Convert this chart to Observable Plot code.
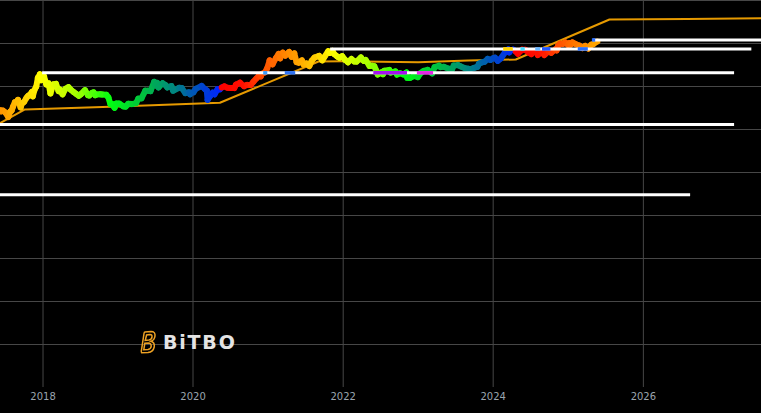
<!DOCTYPE html>
<html><head><meta charset="utf-8">
<script src="https://cdn.jsdelivr.net/npm/d3@7"></script>
<script src="https://cdn.jsdelivr.net/npm/@observablehq/plot@0.6"></script>
<style>
html,body{margin:0;padding:0;background:#000;}
#wrap{position:relative;width:761px;height:413px;overflow:hidden;background:#000}
#logo{position:absolute;left:140px;top:330px;display:flex;align-items:center;gap:6px}
#logo span{font-family:"DejaVu Sans",sans-serif;font-weight:700;font-size:19px;color:#e4e4e4;letter-spacing:1.8px}
</style></head><body>
<div id="wrap"><div id="chart"></div>
<div id="logo"><svg width="17" height="24" viewBox="0 0 17 23"><path d="M5 1.5 L11 1 Q15.5 1 15 5.5 Q14.5 9.5 11 10.8 Q15 12 14.2 16.5 Q13.2 21.5 8 22 L1.5 22.2 Q1 22 1.4 20 L4 3 Q4.2 1.6 5 1.5 Z M6.6 4.5 L5.2 10 L9 9.6 Q11.8 9 12 6.4 Q12.2 4 10 4 Z M4.8 12.8 L3.8 19.2 L8 19 Q11 18.5 11.2 15.8 Q11.4 12.7 8.5 12.6 Z" fill="none" stroke="#eea224" stroke-width="1.5"/></svg><span>BiTBO</span></div>
</div>
<script>
// ---------- data ----------
const xTickYears = [2018, 2020, 2022, 2024, 2026];
const yGridValues = [0.01, 0.1, 1, 10, 100, 1000, 10000, 100000, 1000000];
const halvingDates = ["2016-07-09", "2020-05-11", "2024-04-20", "2028-04-15"];

const priceDates = ["2017-06-08","2017-06-12","2017-06-20","2017-07-01","2017-07-16","2017-07-25","2017-08-01","2017-08-08","2017-08-17","2017-08-25","2017-09-01","2017-09-14","2017-09-20","2017-10-01","2017-10-12","2017-10-20","2017-11-01","2017-11-08","2017-11-12","2017-11-20","2017-11-29","2017-12-07","2017-12-17","2017-12-22","2017-12-29","2018-01-06","2018-01-17","2018-01-28","2018-02-06","2018-02-20","2018-03-05","2018-03-18","2018-03-25","2018-04-06","2018-04-20","2018-05-05","2018-05-15","2018-05-29","2018-06-10","2018-06-24","2018-07-04","2018-07-24","2018-08-08","2018-08-14","2018-08-28","2018-09-04","2018-09-12","2018-09-20","2018-10-05","2018-10-15","2018-11-05","2018-11-15","2018-11-25","2018-12-04","2018-12-15","2018-12-24","2019-01-06","2019-01-28","2019-02-07","2019-02-20","2019-03-10","2019-03-30","2019-04-10","2019-04-25","2019-05-14","2019-05-25","2019-06-08","2019-06-26","2019-07-02","2019-07-10","2019-07-17","2019-08-06","2019-08-20","2019-08-29","2019-09-18","2019-09-26","2019-10-25","2019-11-07","2019-11-25","2019-12-10","2019-12-18","2019-12-20","2020-01-03","2020-01-14","2020-02-12","2020-02-28","2020-03-08","2020-03-12","2020-03-22","2020-04-06","2020-04-15","2020-04-30","2020-05-10","2020-05-20","2020-06-02","2020-06-15","2020-07-01","2020-07-20","2020-07-28","2020-08-17","2020-09-05","2020-09-20","2020-10-08","2020-10-21","2020-11-05","2020-11-17","2020-11-26","2020-12-01","2020-12-16","2020-12-27","2021-01-08","2021-01-22","2021-02-08","2021-02-21","2021-02-28","2021-03-13","2021-03-25","2021-04-13","2021-04-25","2021-05-08","2021-05-19","2021-05-30","2021-06-14","2021-06-22","2021-07-06","2021-07-20","2021-08-01","2021-08-14","2021-09-06","2021-09-21","2021-10-01","2021-10-20","2021-10-28","2021-11-09","2021-11-18","2021-12-04","2021-12-14","2021-12-27","2022-01-10","2022-01-24","2022-02-10","2022-02-24","2022-03-07","2022-03-28","2022-04-11","2022-04-20","2022-05-09","2022-05-22","2022-06-01","2022-06-13","2022-06-18","2022-07-08","2022-07-13","2022-07-20","2022-08-14","2022-08-20","2022-09-12","2022-09-20","2022-10-05","2022-10-21","2022-11-05","2022-11-09","2022-11-21","2022-12-14","2022-12-30","2023-01-14","2023-01-28","2023-02-16","2023-03-10","2023-03-22","2023-04-13","2023-04-20","2023-05-06","2023-05-25","2023-06-15","2023-06-23","2023-07-13","2023-07-28","2023-08-17","2023-09-01","2023-09-11","2023-09-30","2023-10-16","2023-10-24","2023-11-09","2023-11-20","2023-12-05","2023-12-18","2024-01-02","2024-01-10","2024-01-23","2024-02-08","2024-02-28","2024-03-14","2024-03-19","2024-03-27","2024-04-08","2024-04-20","2024-05-01","2024-05-20","2024-06-05","2024-06-24","2024-07-05","2024-07-15","2024-07-28","2024-08-05","2024-08-24","2024-09-06","2024-09-27","2024-10-10","2024-10-29","2024-11-05","2024-11-12","2024-11-22","2024-12-05","2024-12-17","2024-12-30","2025-01-06","2025-01-13","2025-01-21","2025-02-04","2025-02-25","2025-03-10","2025-03-24","2025-04-08","2025-04-22","2025-05-02","2025-05-10","2025-05-22"];
const priceValues = [2800,2650,2750,2500,1950,2600,2750,3400,4300,4350,4900,3250,4000,4400,5400,6000,6700,7450,5900,8200,9900,16000,19300,14000,14600,17100,11200,11800,6900,11200,11500,7800,8400,6600,8800,9700,8500,7500,6800,6100,6600,8200,6300,6200,7100,7300,6300,6500,6600,6500,6400,5600,3900,3900,3200,4000,4000,3450,3400,3950,3900,4100,5200,5300,8000,8000,7800,12900,10600,12200,9500,11900,10800,9500,10200,8000,9300,9200,7000,7300,6600,7200,7300,8800,10300,8700,8100,4900,5800,7200,6600,8700,8600,9500,10100,9400,9200,9200,11000,12300,10200,10900,10900,12900,15500,17700,17100,19700,21300,26500,40600,32900,46200,57400,45200,61200,52300,63500,49100,58800,37000,35700,40500,32500,34200,29800,39800,47000,51700,40600,48100,66000,60600,67500,56900,49400,46700,50700,41800,36700,43500,38300,38000,47400,39500,41500,30100,30300,29800,22500,19000,21600,19300,23200,24300,21100,22400,18900,20300,19100,21300,15900,15800,17800,16500,20800,23000,24300,20200,28300,30400,28200,28800,26300,25100,30700,31400,29300,26600,25900,25200,27000,28500,34000,36700,37500,44000,41400,45800,46700,39500,45300,62500,73100,62000,69500,71600,64900,57700,71400,71100,60300,56700,64800,68300,54000,64200,53900,65800,60600,72700,69400,88700,98900,98000,106100,92700,102200,94500,106100,97800,88700,78500,87500,76300,93400,96500,104000,111000];

const floorDates = ["2017-06-08","2017-10-05","2019-01-01","2020-05-11","2021-09-03","2022-01-01","2023-01-01","2023-09-01","2024-04-20","2025-07-20","2026-08-01","2027-07-30"];
const floorValues = [1430,2920,3430,4180,38100,38500,36500,40000,42500,361000,372000,385000];

const highValues = [30.3, 1300, 20800, 74800, 121000];
const highStarts = ["2011-06-08","2013-11-30","2017-12-30","2021-11-01","2025-05-04"];
const highEnds = ["2026-08-19","2027-03-21","2027-03-21","2027-06-13","2027-12-31"];

const touchStarts = ["2020-12-10","2021-03-25","2022-05-30","2022-12-28","2024-02-21","2024-05-15","2024-07-26","2024-08-28","2025-02-18","2025-04-28"];
const touchEnds   = ["2020-12-30","2021-05-15","2022-11-10","2023-03-17","2024-04-08","2024-06-05","2024-08-20","2024-10-08","2025-04-08","2025-05-14"];
const touchValues = [20800,20800,20800,20800,74800,74800,74800,74800,74800,121000];
const touchColors = ["#3c9cff","#2f72f0","#a414f0","#e424e4","#ffd400","#46dcff","#6ab8ff","#2458ff","#2a70ff","#2a70ff"];

// ---------- build ----------
const parse = d3.utcParse("%Y-%m-%d");
const halvings = halvingDates.map(parse);
function cyclePhase(d) {
  for (let i = 0; i < halvings.length - 1; i++) {
    if (d >= halvings[i] && d < halvings[i + 1]) return (d - halvings[i]) / (halvings[i + 1] - halvings[i]);
  }
  return 0;
}
const price = priceDates.map((d, i) => ({date: parse(d), value: priceValues[i]}));
const segs = d3.pairs(price).map(([a, b]) => ({x1: a.date, y1: a.value, x2: b.date, y2: b.value, phase: cyclePhase(a.date)}));
const floor = floorDates.map((d, i) => ({date: parse(d), value: floorValues[i]}));
const highs = highValues.map((v, i) => ({value: v, start: parse(highStarts[i]), end: parse(highEnds[i])}));
const touches = touchValues.map((v, i) => ({value: v, start: parse(touchStarts[i]), end: parse(touchEnds[i]), color: touchColors[i]}));
const xTicks = xTickYears.map(y => new Date(Date.UTC(y, 0, 1)));

const chart = Plot.plot({
  width: 761, height: 413,
  marginTop: 0, marginRight: 0, marginBottom: 26, marginLeft: 0,
  style: {background: "#000", color: "#9aa4ae", fontFamily: "DejaVu Sans, sans-serif", fontSize: "10px", overflow: "hidden"},
  x: {type: "utc", domain: [parse("2017-06-08"), parse("2027-07-30")], ticks: xTicks, tickFormat: "%Y", tickSize: 0, tickPadding: 5, label: null},
  y: {type: "log", domain: [0.001, 1000000], axis: null},
  color: {type: "linear",
    domain: [0, 0.08, 0.14, 0.2, 0.27, 0.33, 0.38, 0.5, 0.62, 0.75, 0.85, 0.93, 1],
    range: ["#ff0000","#ff1000","#ff4a00","#ff7800","#ffa800","#ffd400","#ffff00","#a8ff00","#00ff10","#00b848","#008088","#0048c8","#0024ff"],
    interpolate: "rgb"},
  marks: [
    Plot.gridY(yGridValues, {stroke: "#474747", strokeOpacity: 1, strokeWidth: 1}),
    Plot.gridX(xTicks, {stroke: "#474747", strokeOpacity: 1, strokeWidth: 1}),
    Plot.line(floor, {x: "date", y: "value", stroke: "#e69a00", strokeWidth: 2, clip: true}),
    Plot.link(segs, {x1: "x1", y1: "y1", x2: "x2", y2: "y2", stroke: "phase", strokeWidth: 6, strokeLinecap: "round", clip: true}),
    Plot.ruleY(highs, {y: "value", x1: "start", x2: "end", stroke: "#ffffff", strokeWidth: 3, clip: true}),
    Plot.ruleY(touches, {y: "value", x1: "start", x2: "end", stroke: d => d.color, strokeWidth: 3.5, clip: true})
  ]
});
document.getElementById("chart").appendChild(chart);
</script>
</body></html>
